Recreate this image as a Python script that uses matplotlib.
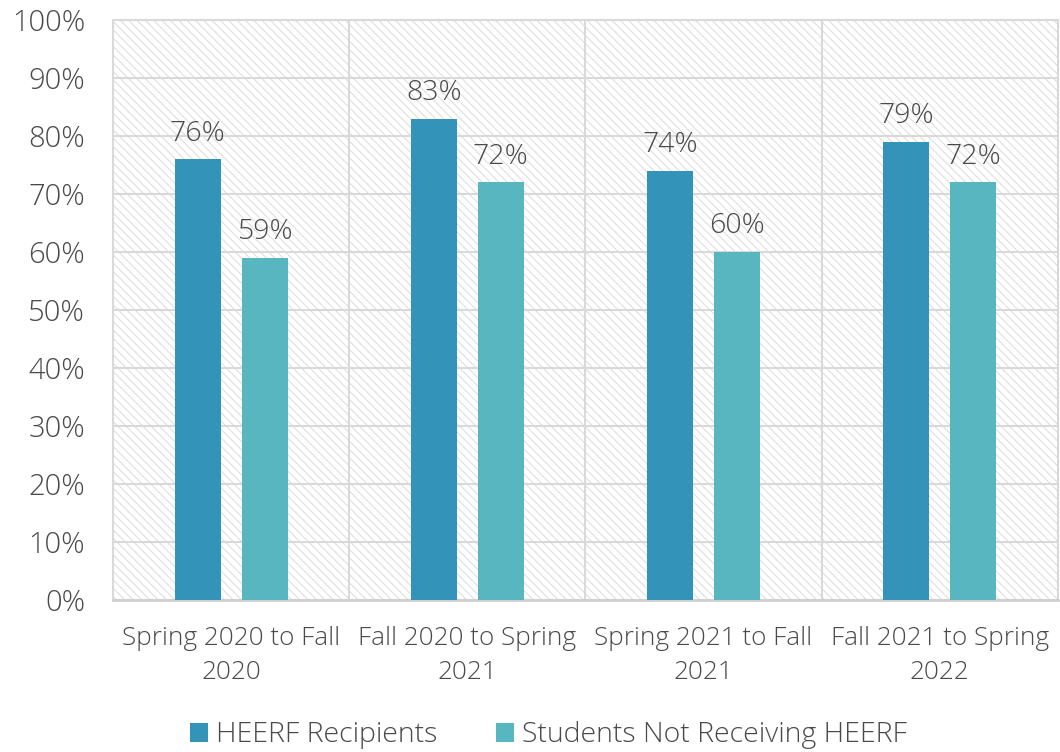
import matplotlib
matplotlib.use('Agg')
import matplotlib.pyplot as plt
from matplotlib.patches import Rectangle
import numpy as np

# data
categories = ['Spring 2020 to Fall\n2020', 'Fall 2020 to Spring\n2021',
              'Spring 2021 to Fall\n2021', 'Fall 2021 to Spring\n2022']
recipients = [76, 83, 74, 79]
non_recipients = [59, 72, 60, 72]
series_names = ['HEERF Recipients', 'Students Not Receiving HEERF']
colors = ['#3393B9', '#57B6C0']

plt.rcParams['font.family'] = ['Open Sans', 'DejaVu Sans']
plt.rcParams['font.weight'] = 'light'
plt.rcParams['hatch.linewidth'] = 0.7
text_col = '#4a4a4a'
grid_col = '#d9d9d9'

fig = plt.figure(figsize=(10.6, 7.52), dpi=100)
ax = fig.add_axes([0.1066, 0.2021, 0.8914, 0.7713])

# hatched background
ax.add_patch(Rectangle((0, 0), 1, 1, transform=ax.transAxes, facecolor='white',
                       edgecolor='#dcdcdc', hatch='\\\\\\\\', lw=0, zorder=0))

x = np.arange(len(categories))
w = 0.195
off = 0.142
b1 = ax.bar(x - off, recipients, w, color=colors[0], label=series_names[0], zorder=3)
b2 = ax.bar(x + off, non_recipients, w, color=colors[1], label=series_names[1], zorder=3)

for bars, vals in [(b1, recipients), (b2, non_recipients)]:
    for b, v in zip(bars, vals):
        ax.text(b.get_x() + b.get_width() / 2, v + 2.0, f'{v}%', ha='center', va='bottom',
                fontsize=20.5, color=text_col, zorder=4)

ax.set_xlim(-0.5, len(categories) - 0.5)
ax.set_ylim(0, 100)
ax.set_yticks(range(0, 101, 10))
ax.set_yticklabels([f'{t}%' for t in range(0, 101, 10)], fontsize=21)
ax.set_xticks(x)
ax.set_xticklabels(categories, linespacing=1.45, fontsize=18.8)
ax.tick_params(axis='both', length=0, labelcolor=text_col)
ax.tick_params(axis='x', pad=19)
ax.tick_params(axis='y', pad=20)

ax.yaxis.grid(True, color=grid_col, lw=1.5, zorder=1)
for xv in np.arange(0.5, len(categories) - 0.5, 1):
    ax.axvline(xv, color=grid_col, lw=1.5, zorder=1)

for s in ['top', 'right', 'left']:
    ax.spines[s].set_color(grid_col)
    ax.spines[s].set_linewidth(1.5)
ax.spines['bottom'].set_color('#d0d0d0')
ax.spines['bottom'].set_linewidth(2)

ax.legend(loc='upper center', bbox_to_anchor=(0.461, -0.165), ncol=2, frameon=False,
          fontsize=20.5, labelcolor=text_col, handlelength=0.63, handleheight=0.63,
          handletextpad=0.28, columnspacing=2.05)

fig.savefig('out.png', dpi=100)
